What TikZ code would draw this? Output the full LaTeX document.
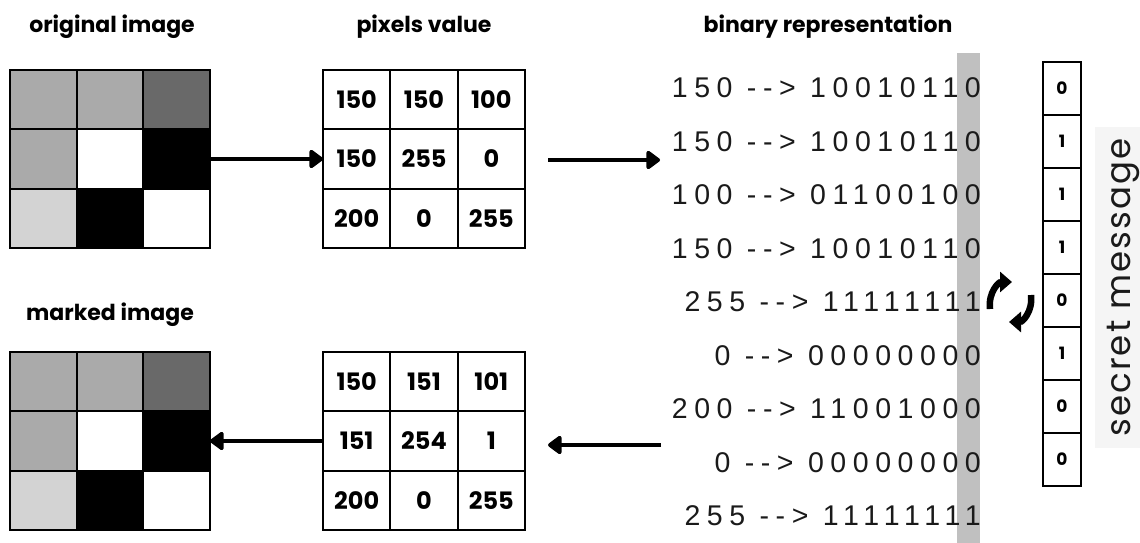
\documentclass[tikz,border=0pt]{standalone}
\usepackage{fontspec}
\setmainfont{Poppins}
\newfontfamily\binfont[LetterSpace=23]{Liberation Sans}
\newfontfamily\secfont[LetterSpace=6]{Poppins}
\usetikzlibrary{arrows.meta}
\definecolor{pxA}{HTML}{AAAAAA}
\definecolor{pxB}{HTML}{696969}
\definecolor{pxC}{HTML}{D3D3D3}
\definecolor{barcol}{HTML}{C0C0C0}
\definecolor{secbg}{HTML}{F5F5F5}
\definecolor{txt}{HTML}{1A1A1A}
\begin{document}
\begin{tikzpicture}[x=1pt,y=-1pt,
  title/.style={font=\fontsize{22}{22}\selectfont\bfseries, anchor=base, inner sep=0},
  imgcell/.style={draw, line width=2.2pt, minimum width=66.7pt, minimum height=59.3pt, inner sep=0, outer sep=0},
  numcell/.style={imgcell, minimum width=67.3pt, font=\fontsize{24}{24}\selectfont\bfseries},
  seccell/.style={draw, line width=2.2pt, minimum width=38pt, minimum height=53pt, inner sep=0, outer sep=0, font=\fontsize{17}{17}\selectfont\bfseries},
  binline/.style={font=\binfont\fontsize{28.5}{28.5}\selectfont, anchor=base east, inner sep=0, text=txt},
  bigarrow/.style={line width=4.5pt, -{Triangle[length=15pt,width=21pt,round]}},
  cyclearrow/.style={line width=6.5pt, -{Triangle[length=12pt,width=20pt]}}
]
\useasboundingbox (0,0) rectangle (1140,543);
\fill[white] (0,0) rectangle (1140,543);

% titles
\node[title] (t1) at (112,33) {original image};
\node[title] (t2) at (424,33) {pixels value};
\node[title] (t3) at (828,33) {binary representation};
\node[title] (t4) at (110,320) {marked image};

% original image
\foreach \r/\c/\col in {1/1/pxA,1/2/pxA,1/3/pxB,2/1/pxA,2/2/white,2/3/black,3/1/pxC,3/2/black,3/3/white}{
  \node[imgcell, fill=\col] (orig-\r-\c) at ({10+66.67*(\c-0.5)},{70+59.33*(\r-0.5)}) {};
}
% marked image
\foreach \r/\c/\col in {1/1/pxA,1/2/pxA,1/3/pxB,2/1/pxA,2/2/white,2/3/black,3/1/pxC,3/2/black,3/3/white}{
  \node[imgcell, fill=\col] (mark-\r-\c) at ({10+66.67*(\c-0.5)},{352+59.33*(\r-0.5)}) {};
}
% pixel values
\foreach \r/\c/\v in {1/1/150,1/2/150,1/3/100,2/1/150,2/2/255,2/3/0,3/1/200,3/2/0,3/3/255}{
  \node[numcell] (pix-\r-\c) at ({323+67.33*(\c-0.5)},{70+59.33*(\r-0.5)}) {\v};
}
% modified pixel values
\foreach \r/\c/\v in {1/1/150,1/2/151,1/3/101,2/1/151,2/2/254,2/3/1,3/1/200,3/2/0,3/3/255}{
  \node[numcell] (mpix-\r-\c) at ({323+67.33*(\c-0.5)},{352+59.33*(\r-0.5)}) {\v};
}

% LSB bar
\fill[barcol] (957,53) rectangle (980,543);

% binary lines
\node[binline] (b1) at (981,97.5) {150 --> 10010110};
\node[binline] (b2) at (981,151) {150 --> 10010110};
\node[binline] (b3) at (981,204.5) {100 --> 01100100};
\node[binline] (b4) at (981,258) {150 --> 10010110};
\node[binline] (b5) at (981,311.5) {255 --> 11111111};
\node[binline] (b6) at (981,365) {0 --> 00000000};
\node[binline] (b7) at (981,418.5) {200 --> 11001000};
\node[binline] (b8) at (981,472) {0 --> 00000000};
\node[binline] (b9) at (981,525) {255 --> 11111111};

% secret message cells
\foreach \i/\v in {1/0,2/1,3/1,4/1,5/0,6/1,7/0,8/0}{
  \node[seccell] (sec-\i) at (1062,{62+53*(\i-0.5)}) {\v};
}
\fill[secbg] (1095,127) rectangle (1140,448);
\node[rotate=90, anchor=base, inner sep=0, font=\secfont\fontsize{34}{34}\selectfont, text=txt] (secmsg) at (1130,287.5) {secret message};

% cycle icon
\draw[cyclearrow] (990,309) .. controls (988,292) and (999,282) .. (1012,282);
\draw[cyclearrow] (1031,295) .. controls (1033,312) and (1022,322) .. (1009,322);

% arrows
\coordinate (a2s) at (548,160);
\coordinate (a2e) at (660,160);
\coordinate (a3s) at (661,445);
\coordinate (a3e) at (548,445);
\draw[bigarrow] (orig-2-3.east) -- (pix-2-1.west);
\draw[bigarrow] (a2s) -- (a2e);
\draw[bigarrow] (a3s) -- (a3e);
\draw[bigarrow] (mpix-2-1.west) -- (mark-2-3.east);
\end{tikzpicture}
\end{document}
